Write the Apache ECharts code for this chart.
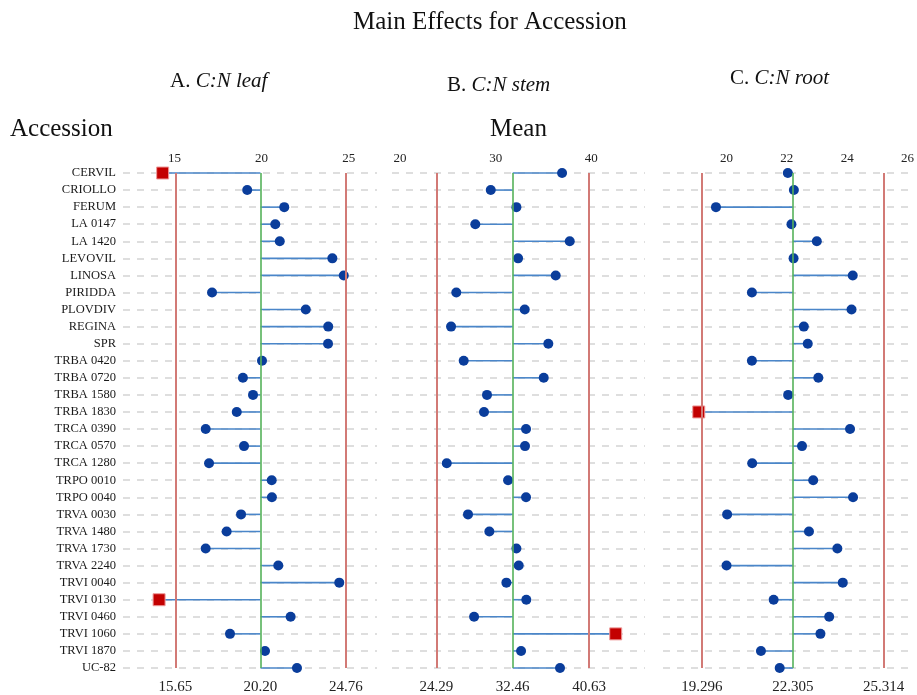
<!DOCTYPE html>
<html>
<head>
<meta charset="utf-8">
<script src="https://cdn.jsdelivr.net/npm/echarts@6/dist/echarts.min.js"></script>
<style>
  html, body { margin: 0; padding: 0; background: #ffffff; }
  #chart { width: 917px; height: 695px; }
</style>
</head>
<body>
<div id="chart"></div>
<script>
// Accessions, top to bottom
const accessions = [
  'CERVIL', 'CRIOLLO', 'FERUM', 'LA 0147', 'LA 1420', 'LEVOVIL', 'LINOSA',
  'PIRIDDA', 'PLOVDIV', 'REGINA', 'SPR', 'TRBA 0420', 'TRBA 0720', 'TRBA 1580',
  'TRBA 1830', 'TRCA 0390', 'TRCA 0570', 'TRCA 1280', 'TRPO 0010', 'TRPO 0040',
  'TRVA 0030', 'TRVA 1480', 'TRVA 1730', 'TRVA 2240', 'TRVI 0040', 'TRVI 0130',
  'TRVI 0460', 'TRVI 1060', 'TRVI 1870', 'UC-82'
];

// Mean C:N ratio per accession
const leafMeans = [
  14.97, 19.49, 21.47, 20.99, 21.23, 24.04, 24.65, 17.61, 22.62, 23.82,
  23.81, 20.28, 19.26, 19.80, 18.93, 17.27, 19.32, 17.45, 20.80, 20.81,
  19.16, 18.39, 17.27, 21.15, 24.41, 14.78, 21.81, 18.57, 20.44, 22.15
];
const stemMeans = [
  37.73, 30.11, 32.85, 28.46, 38.55, 33.03, 37.05, 26.43, 33.74, 25.87,
  36.26, 27.22, 35.77, 29.71, 29.39, 33.88, 33.77, 25.41, 31.96, 33.88,
  27.68, 29.96, 32.85, 33.10, 31.78, 33.91, 28.33, 43.46, 33.35, 37.51
];
const rootMeans = [
  22.14, 22.34, 19.76, 22.26, 23.10, 22.33, 24.29, 20.95, 24.25, 22.67,
  22.80, 20.95, 23.15, 22.15, 19.19, 24.20, 22.61, 20.96, 22.98, 24.30,
  20.13, 22.84, 23.78, 20.11, 23.96, 21.67, 23.51, 23.22, 21.25, 21.87
];

// Decision limits: lower limit, grand mean, upper limit
const leafLimits = [15.65, 20.20, 24.76];
const stemLimits = [24.29, 32.46, 40.63];
const rootLimits = [19.296, 22.305, 25.314];

// Scale labels along the top of each panel
const leafTicks = [15, 20, 25];
const stemTicks = [20, 30, 40];
const rootTicks = [20, 22, 24, 26];

const SERIF = "'Liberation Serif', 'DejaVu Serif', serif";

// Panel layout: grid edges and axis extents
const panels = [
  { name: 'leaf', means: leafMeans, limits: leafLimits, ticks: leafTicks, digits: 2,
    left: 123, width: 254, range: [12.851, 26.427], topRange: [12.044, 26.625], showNames: true },
  { name: 'stem', means: stemMeans, limits: stemLimits, ticks: stemTicks, digits: 2,
    left: 392, width: 253, range: [19.56, 46.59], topRange: [19.16, 45.61], showNames: false },
  { name: 'root', means: rootMeans, limits: rootLimits, ticks: rootTicks, digits: 3,
    left: 663, width: 254, range: [18.006, 26.323], topRange: [17.895, 26.22], showNames: false }
];

const GRID_TOP = 173;
const GRID_HEIGHT = 497;

const grid = [];
const xAxis = [];
const yAxis = [];
const series = [];

panels.forEach((p, i) => {
  grid.push({ left: p.left, width: p.width, top: GRID_TOP, height: GRID_HEIGHT, containLabel: false });

  // bottom axis carries the data scale and the limit labels
  xAxis.push({
    type: 'value', gridIndex: i, position: 'bottom',
    min: p.range[0], max: p.range[1],
    axisLine: { show: false }, axisTick: { show: false }, splitLine: { show: false },
    axisLabel: {
      customValues: p.limits,
      formatter: (v) => Number(v).toFixed(p.digits),
      fontFamily: SERIF, fontSize: 15, color: '#222', margin: 12
    }
  });
  // top scale labels
  xAxis.push({
    type: 'value', gridIndex: i, position: 'top',
    min: p.topRange[0], max: p.topRange[1],
    axisLine: { show: false }, axisTick: { show: false }, splitLine: { show: false },
    axisLabel: {
      customValues: p.ticks,
      fontFamily: SERIF, fontSize: 13, color: '#222', margin: 8
    }
  });

  yAxis.push({
    type: 'category', gridIndex: i, data: accessions, inverse: true, boundaryGap: false,
    axisLine: { show: false }, axisTick: { show: false },
    axisLabel: {
      show: p.showNames, interval: 0, margin: 7,
      fontFamily: SERIF, fontSize: 12.5, color: '#1a1a1a'
    },
    splitLine: {
      show: true, interval: 0,
      lineStyle: { color: '#d4d4d4', width: 1.5, type: [7, 7] }
    }
  });

  const center = p.limits[1];
  const xIdx = i * 2;

  // stems from the grand mean to each accession mean, plus the limit lines
  series.push({
    type: 'custom', name: p.name + '-stems', xAxisIndex: xIdx, yAxisIndex: i, z: 2,
    data: p.means.map((v, k) => [v, k]),
    renderItem: (params, api) => {
      const a = api.coord([center, api.value(1)]);
      const b = api.coord([api.value(0), api.value(1)]);
      return {
        type: 'line',
        shape: { x1: a[0], y1: a[1], x2: b[0], y2: b[1] },
        style: { stroke: '#4a86c9', lineWidth: 1.6 }
      };
    },
    markLine: {
      silent: true, symbol: 'none', label: { show: false }, animation: false,
      data: [
        { xAxis: p.limits[0], lineStyle: { color: '#d27a76', width: 2, type: 'solid' } },
        { xAxis: p.limits[1], lineStyle: { color: '#55b25a', width: 1.6, type: 'solid' } },
        { xAxis: p.limits[2], lineStyle: { color: '#d27a76', width: 2, type: 'solid' } }
      ]
    }
  });

  // accession means: circles inside the limits, red squares outside
  series.push({
    type: 'scatter', name: p.name, xAxisIndex: xIdx, yAxisIndex: i, z: 4,
    data: p.means.map((v, k) => {
      const out = v < p.limits[0] || v > p.limits[2];
      return out
        ? { value: [v, k], symbol: 'rect', symbolSize: 12,
            itemStyle: { color: '#c30000', borderColor: '#ee9a9a', borderWidth: 1, opacity: 1 } }
        : { value: [v, k], symbol: 'circle', symbolSize: 10,
            itemStyle: { color: '#0a3d9b', opacity: 1 } };
    })
  });
});

const richTitle = {
  n: { fontFamily: SERIF, fontSize: 21, fontWeight: 'normal', color: '#111' },
  i: { fontFamily: SERIF, fontSize: 21, fontWeight: 'normal', fontStyle: 'italic', color: '#111' }
};

const chart = echarts.init(document.getElementById('chart'), null, { renderer: 'canvas' });
chart.setOption({
  animation: false,
  backgroundColor: '#ffffff',
  title: [
    { text: 'Main Effects for Accession', left: 353, top: 10, padding: 0,
      textStyle: { fontFamily: SERIF, fontSize: 25, fontWeight: 'normal', color: '#111' } },
    { text: '{n|A. }{i|C:N leaf}', left: 170, top: 71, padding: 0,
      textStyle: { fontWeight: 'normal', rich: richTitle } },
    { text: '{n|B. }{i|C:N stem}', left: 447, top: 75, padding: 0,
      textStyle: { fontWeight: 'normal', rich: richTitle } },
    { text: '{n|C. }{i|C:N root}', left: 730, top: 68, padding: 0,
      textStyle: { fontWeight: 'normal', rich: richTitle } },
    { text: 'Accession', left: 10, top: 117, padding: 0,
      textStyle: { fontFamily: SERIF, fontSize: 25, fontWeight: 'normal', color: '#111' } },
    { text: 'Mean', left: 490, top: 117, padding: 0,
      textStyle: { fontFamily: SERIF, fontSize: 25, fontWeight: 'normal', color: '#111' } }
  ],
  grid: grid,
  xAxis: xAxis,
  yAxis: yAxis,
  series: series
});
</script>
</body>
</html>
